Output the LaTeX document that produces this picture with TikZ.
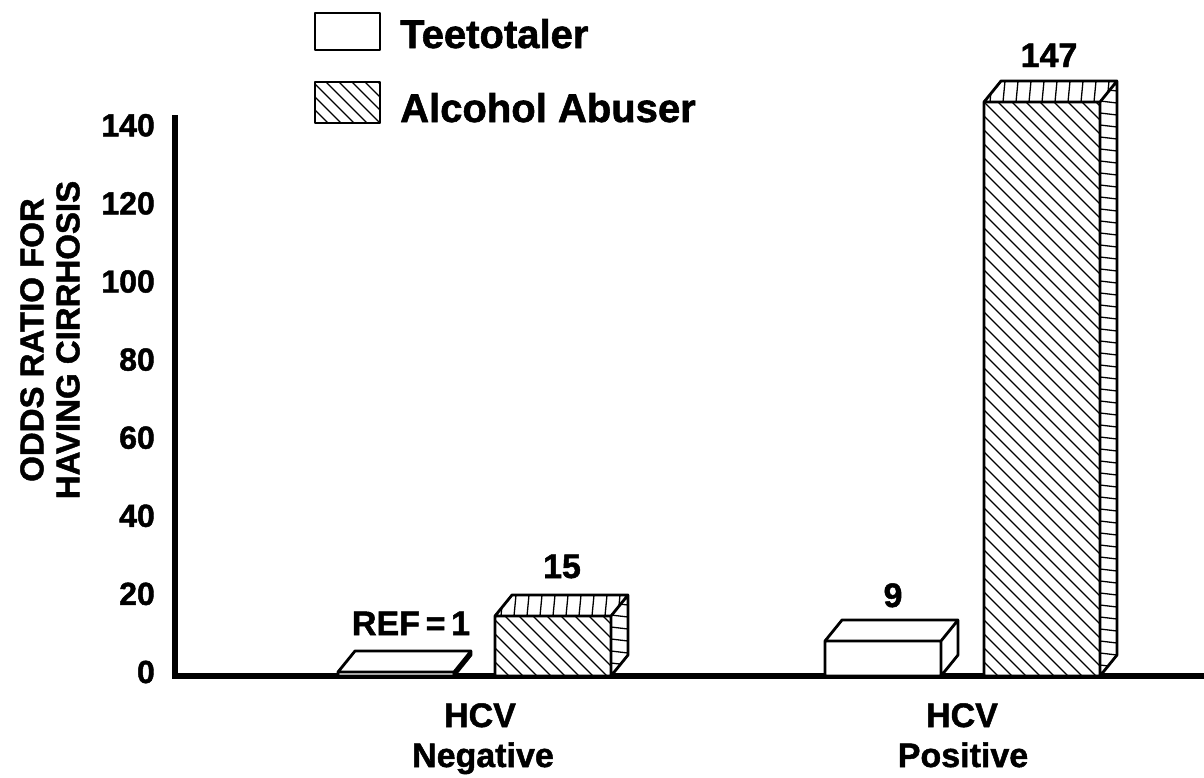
\documentclass[tikz,border=0pt]{standalone}
\usepackage{fontspec}
\setmainfont{Liberation Sans}[BoldFeatures={FakeBold=1.4}]
\newcommand\barsetup[2]{%
  \pgfmathsetmacro\bxa{#1}%
  \pgfmathsetmacro\bxb{#1+116}%
  \pgfmathsetmacro\byt{#2}%
  \pgfmathsetmacro\bhh{676-#2}%
  \pgfmathsetmacro\bxc{#1+17}%
  \pgfmathsetmacro\bxd{#1+133}%
  \pgfmathsetmacro\byu{#2-21}%
}
\newcommand\baroutline{%
  \draw[edge] (\bxa,676) -- (\bxa,\byt) -- (\bxc,\byu) -- (\bxd,\byu) -- (\bxd,655) -- (\bxb,676) -- cycle
     (\bxa,\byt) -- (\bxb,\byt) -- (\bxd,\byu) (\bxb,\byt) -- (\bxb,676);
}
\newcommand\hatchedbar[2]{%
  \barsetup{#1}{#2}%
  \fill[white] (\bxa,\byt) -- (\bxc,\byu) -- (\bxd,\byu) -- (\bxd,655) -- (\bxb,676) -- (\bxa,676) -- cycle;
  \begin{scope}
    \clip (\bxa,\byt) rectangle (\bxb,676);
    \foreach \s in {0,14,...,700} \draw[hatch] ({\bxa-\bhh+\s},\byt) -- ++(\bhh+20,\bhh+20);
  \end{scope}
  \begin{scope}
    \clip (\bxa,\byt) -- (\bxc,\byu) -- (\bxd,\byu) -- (\bxb,\byt) -- cycle;
    \foreach \s in {6,19,...,150} \draw[hatch] ({\bxa+\s},\byt) -- ++(2,-21);
  \end{scope}
  \begin{scope}
    \clip (\bxb,\byt) -- (\bxd,\byu) -- (\bxd,655) -- (\bxb,676) -- cycle;
    \foreach \s in {8,20,...,700} \draw[hatch] (\bxb,{\byu+\s}) -- ++(17,2);
  \end{scope}
  \baroutline
}
\newcommand\plainbar[2]{%
  \barsetup{#1}{#2}%
  \fill[white] (\bxa,\byt) -- (\bxc,\byu) -- (\bxd,\byu) -- (\bxd,655) -- (\bxb,676) -- (\bxa,676) -- cycle;
  \baroutline
}
\begin{document}
\begin{tikzpicture}[x=1pt,y=-1pt,
  edge/.style={line width=2.8pt,line join=round,line cap=round},
  hatch/.style={line width=1.3pt},
  axisline/.style={line width=5.5pt,line join=miter},
  lab/.style={font=\fontsize{34}{36}\selectfont\bfseries, inner sep=0pt, anchor=base},
  ticklab/.style={font=\fontsize{32}{34}\selectfont\bfseries, anchor=east, inner sep=0pt},
  axtitle/.style={font=\fontsize{33}{36}\selectfont\bfseries, inner sep=0pt, rotate=90},
  leg/.style={font=\fontsize{40}{44}\selectfont\bfseries, anchor=base west, inner sep=0pt}]
\useasboundingbox (0,0) rectangle (1204,777);
\fill[white] (0,0) rectangle (1204,777);

% legend
\draw[edge] (315,13) rectangle (380,50);
\begin{scope}
  \clip (315,82) rectangle (380,123);
  \foreach \s in {0,13,...,120} \draw[hatch] ({315-41+\s},82) -- ++(50,50);
\end{scope}
\draw[edge] (315,82) rectangle (380,123);
\node[leg] (legT) at (400,48) {Teetotaler};
\node[leg] (legA) at (400,122) {Alcohol Abuser};

% axes
\coordinate (ytop) at (175,115);
\coordinate (xend) at (1204,676);
\draw[axisline] (ytop) |- (xend);

% tick labels
\foreach \v in {0,20,...,140}
  \node[ticklab] (t\v) at (155,{672-\v*3.905}) {\v};

% axis title
\node[axtitle] (title1) at (32,340) {ODDS RATIO FOR};
\node[axtitle] (title2) at (68,340) {HAVING CIRRHOSIS};

% bars
\plainbar{338}{672}
\hatchedbar{495}{616}
\plainbar{825}{641}
\hatchedbar{984}{102}

% value labels
\node[lab] (vref) at (411,635) {REF\,=\,1};
\node[lab] (v15) at (562,578) {15};
\node[lab] (v9) at (893,607) {9};
\node[lab] (v147) at (1049,67) {147};

% category labels
\node[lab] (c1a) at (480,727) {HCV};
\node[lab] (c1b) at (483,767) {Negative};
\node[lab] (c2a) at (962,727) {HCV};
\node[lab] (c2b) at (963,767) {Positive};
\end{tikzpicture}
\end{document}
